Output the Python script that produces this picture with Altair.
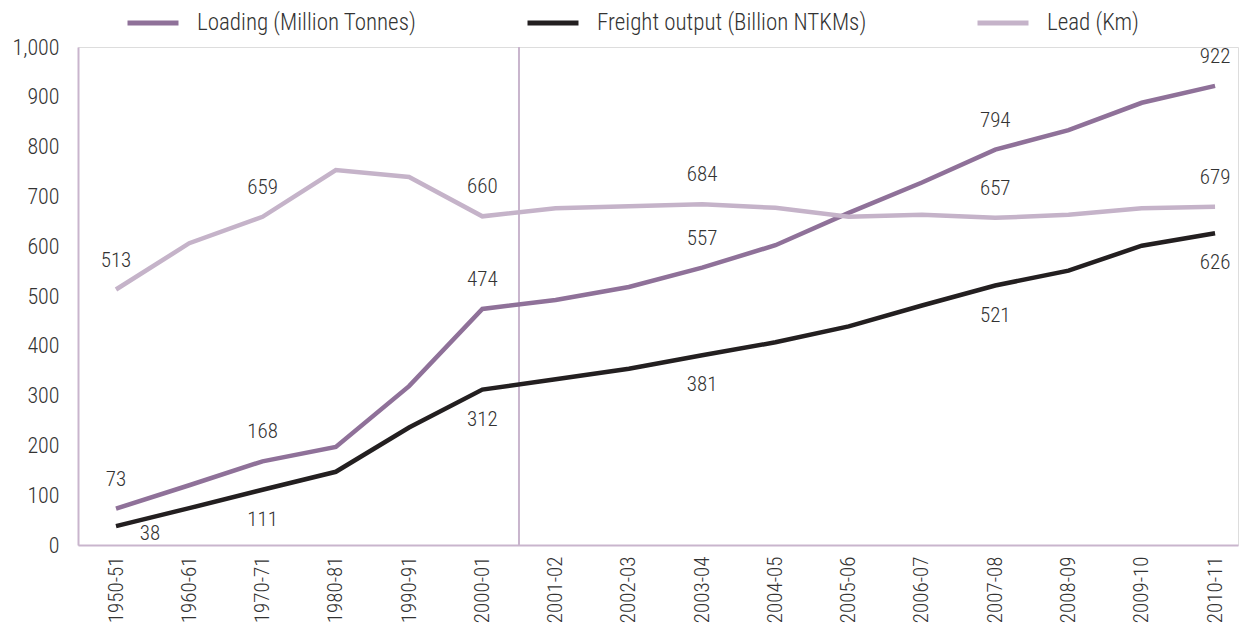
import altair as alt
import pandas as pd

periods = ["1950-51", "1960-61", "1970-71", "1980-81", "1990-91", "2000-01",
           "2001-02", "2002-03", "2003-04", "2004-05", "2005-06", "2006-07",
           "2007-08", "2008-09", "2009-10", "2010-11"]
loading = [73, 120, 168, 197, 319, 474, 492, 518, 557, 602, 667, 728, 794, 833, 888, 922]
freight = [38, 74, 111, 147, 236, 312, 333, 354, 381, 407, 439, 481, 521, 551, 601, 626]
lead = [513, 606, 659, 753, 739, 660, 676, 680, 684, 677, 659, 663, 657, 663, 676, 679]

series_names = ["Loading (Million Tonnes)", "Freight output (Billion NTKMs)", "Lead (Km)"]
series_colors = ["#8f7199", "#231f20", "#c5b3c9"]
labelled_idx = [0, 2, 5, 8, 12, 15]
divider_at = 5.5  # between 2000-01 and 2001-02

FONT = "Roboto Condensed, Liberation Sans Narrow, Roboto, sans-serif"
FW = 300
FS = 21
TXT = "#333333"
AXISC = "#c9b5cd"

rows = []
for name, vals in zip(series_names, [loading, freight, lead]):
    for i, v in enumerate(vals):
        rows.append({"series": name, "idx": i, "period": periods[i], "value": v})
df = pd.DataFrame(rows)
lab = df[df["idx"].isin(labelled_idx)].copy()
lab["txt"] = lab["value"].astype(str)

above = lab[lab["series"] != series_names[1]]
below = lab[(lab["series"] == series_names[1]) & (lab["idx"] != 0)]
below_first = lab[(lab["series"] == series_names[1]) & (lab["idx"] == 0)]

W, H = 1160, 498
step = 73.27
x_scale = alt.Scale(domain=[-38 / step, (W - 38) / step], nice=False, zero=False)
y_scale = alt.Scale(domain=[0, 1000], nice=False)

label_arr = "[" + ",".join("'" + p + "'" for p in periods) + "]"

xenc = alt.X("idx:Q", scale=x_scale, title=None,
             axis=alt.Axis(values=list(range(len(periods))), labelExpr=label_arr + "[datum.value]",
                           labelAngle=270, ticks=False, grid=False, domainColor=AXISC, domainWidth=2,
                           labelFont=FONT, labelFontSize=FS, labelFontWeight=FW, labelColor=TXT,
                           labelPadding=11))
yenc = alt.Y("value:Q", scale=y_scale, title=None,
             axis=alt.Axis(values=list(range(0, 1001, 100)), format=",.0f", ticks=False, grid=False,
                           domainColor=AXISC, domainWidth=2, labelFont=FONT, labelFontSize=22,
                           labelFontWeight=FW, labelColor=TXT, labelPadding=19))

color = alt.Color("series:N", scale=alt.Scale(domain=series_names, range=series_colors),
                  legend=alt.Legend(title=None, orient="none", direction="horizontal",
                                    legendX=47, legendY=-52, symbolType="stroke",
                                    symbolSize=2600, symbolStrokeWidth=5, labelOffset=16,
                                    columnPadding=100, labelFont=FONT, labelFontSize=23,
                                    labelFontWeight=FW, labelColor=TXT, labelLimit=400))

lines = alt.Chart(df).mark_line(strokeWidth=4.5).encode(x=xenc, y=yenc, color=color,
                                                          order="idx:Q")

div_df = pd.DataFrame({"idx": [divider_at], "lo": [0], "hi": [1000]})
divider = alt.Chart(div_df).mark_rule(color=AXISC, strokeWidth=2).encode(
    x=alt.X("idx:Q", scale=x_scale), y=alt.Y("lo:Q", scale=y_scale), y2="hi:Q")

tkw = dict(font=FONT, fontSize=FS, fontWeight=FW, color=TXT, baseline="middle", align="center")
t_above = alt.Chart(above).mark_text(dy=-29, **tkw).encode(
    x=alt.X("idx:Q", scale=x_scale), y=alt.Y("value:Q", scale=y_scale), text="txt:N")
t_below = alt.Chart(below).mark_text(dy=30, **tkw).encode(
    x=alt.X("idx:Q", scale=x_scale), y=alt.Y("value:Q", scale=y_scale), text="txt:N")
t_first = alt.Chart(below_first).mark_text(dx=34, dy=8, **tkw).encode(
    x=alt.X("idx:Q", scale=x_scale), y=alt.Y("value:Q", scale=y_scale), text="txt:N")

chart = alt.layer(divider, lines, t_above, t_below, t_first).properties(
    width=W, height=H, autosize=alt.AutoSizeParams(type="none"),
    padding={"left": 70, "top": 39, "right": 2, "bottom": 85}
).configure_view(stroke=None).configure(background="white")

chart.save("out.html", embed_options={"renderer": "svg", "actions": False})
